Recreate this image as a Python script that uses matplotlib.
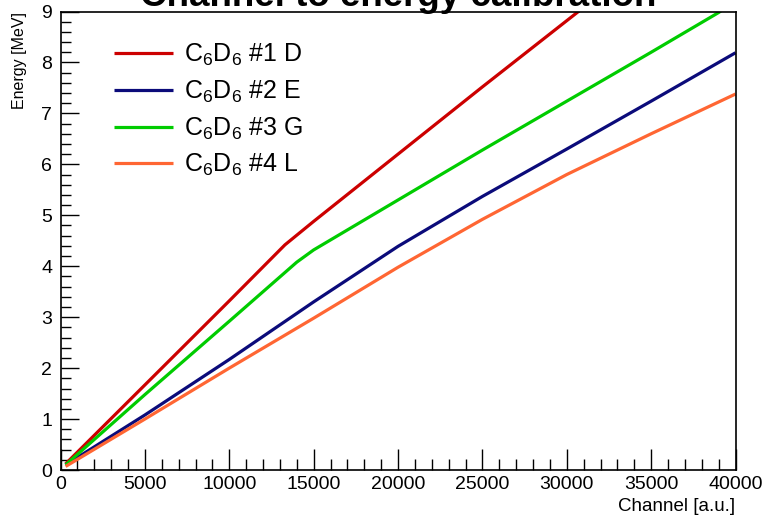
import matplotlib
matplotlib.use("Agg")
import matplotlib.pyplot as plt
from matplotlib.ticker import MultipleLocator

# Calibration curves (channel -> energy in MeV)
channel_d = [300, 5000, 10000, 13300, 15000, 20000, 25000, 30000, 31000]
energy_d = [0.12, 1.67, 3.32, 4.42, 4.88, 6.20, 7.52, 8.82, 9.08]

channel_e = [300, 5000, 10000, 15000, 20000, 25000, 30000, 35000, 40000]
energy_e = [0.10, 1.08, 2.17, 3.30, 4.39, 5.37, 6.30, 7.24, 8.19]

channel_g = [300, 5000, 10000, 14000, 15000, 20000, 25000, 30000, 35000, 39000, 39300]
energy_g = [0.10, 1.48, 2.92, 4.08, 4.32, 5.30, 6.28, 7.24, 8.20, 8.98, 9.05]

channel_l = [300, 5000, 10000, 15000, 20000, 25000, 30000, 35000, 40000]
energy_l = [0.07, 1.00, 2.00, 2.98, 3.98, 4.92, 5.80, 6.60, 7.38]

labels = [r"C$_6$D$_6$ #1 D", r"C$_6$D$_6$ #2 E", r"C$_6$D$_6$ #3 G", r"C$_6$D$_6$ #4 L"]
colors = ["#cc0000", "#0b0b7a", "#00cc00", "#ff6633"]

plt.rcParams["font.family"] = ["Liberation Sans", "DejaVu Sans"]
plt.rcParams["mathtext.fontset"] = "custom"
plt.rcParams["mathtext.rm"] = "Liberation Sans"
plt.rcParams["mathtext.it"] = "Liberation Sans"

fig = plt.figure(figsize=(7.64, 5.16), dpi=100)
ax = fig.add_axes([0.0792, 0.0891, 0.8835, 0.8886])

series = [(channel_d, energy_d), (channel_e, energy_e), (channel_g, energy_g), (channel_l, energy_l)]
for (x, y), lab, col in zip(series, labels, colors):
    ax.plot(x, y, color=col, lw=2.3, label=lab, solid_capstyle="butt")

ax.set_xlim(0, 40000)
ax.set_ylim(0, 9)

ax.xaxis.set_major_locator(MultipleLocator(5000))
ax.xaxis.set_minor_locator(MultipleLocator(1000))
ax.yaxis.set_major_locator(MultipleLocator(1))
ax.yaxis.set_minor_locator(MultipleLocator(0.2))
ax.tick_params(which="both", direction="in", top=False, right=False, width=1, labelsize=14)
ax.tick_params(axis="x", which="major", length=15, pad=4)
ax.tick_params(axis="x", which="minor", length=8)
ax.tick_params(axis="y", which="major", length=13, pad=6)
ax.tick_params(axis="y", which="minor", length=7)
for s in ax.spines.values():
    s.set_linewidth(1.2)

ax.set_xlabel("Channel [a.u.]", fontsize=13.5, loc="right", labelpad=4)
ax.set_ylabel("Energy [MeV]", fontsize=11.5, loc="top", labelpad=10)

ax.legend(loc="upper left", bbox_to_anchor=(0.065, 0.955), frameon=False, fontsize=18,
          handlelength=2.35, handletextpad=0.45, labelspacing=0.42, borderaxespad=0)

# title is partly cut off at the top edge, as in the original
fig.text(398 / 764, 1 - 6 / 516, "Channel to energy calibration", ha="center", va="baseline",
         fontsize=26.5, fontweight="bold")

fig.savefig("out.png", dpi=100)
